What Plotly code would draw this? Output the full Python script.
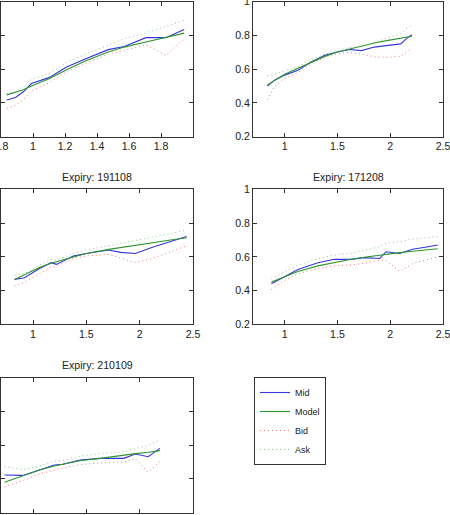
import plotly.graph_objects as go

# ---------------- data ----------------
# Panel 1 (top-left)
p1_x = [0.836, 0.89, 0.94, 0.99, 1.10, 1.21, 1.33, 1.47, 1.57, 1.706, 1.83, 1.945]
p1_mid = [0.417, 0.432, 0.466, 0.515, 0.550, 0.613, 0.662, 0.716, 0.735, 0.787, 0.787, 0.836]
p1_model = [0.448, 0.462, 0.478, 0.500, 0.544, 0.597, 0.650, 0.702, 0.731, 0.761, 0.790, 0.814]
p1_bid = [0.367, 0.385, 0.420, 0.470, 0.520, 0.585, 0.635, 0.690, 0.712, 0.745, 0.682, 0.780]
p1_ask = [0.455, 0.465, 0.495, 0.540, 0.575, 0.640, 0.690, 0.740, 0.780, 0.815, 0.855, 0.889]

# Panel 2 (top-right)
p2_x = [0.836, 0.905, 1.0, 1.126, 1.25, 1.38, 1.5, 1.615, 1.726, 1.85, 1.98, 2.1, 2.15, 2.205]
p2_mid = [0.500, 0.535, 0.565, 0.594, 0.643, 0.682, 0.702, 0.717, 0.710, 0.731, 0.741, 0.750, 0.780, 0.804]
p2_model = [0.505, 0.535, 0.570, 0.605, 0.643, 0.676, 0.702, 0.720, 0.737, 0.755, 0.771, 0.784, 0.789, 0.795]
p2_bid = [0.420, 0.500, 0.545, 0.580, 0.630, 0.668, 0.690, 0.700, 0.690, 0.673, 0.670, 0.677, 0.700, 0.724]
p2_ask = [0.560, 0.570, 0.590, 0.615, 0.655, 0.690, 0.712, 0.728, 0.735, 0.760, 0.785, 0.810, 0.840, 0.860]

# Panel 3 (Expiry: 191108)
p3_x = [0.827, 0.92, 1.06, 1.17, 1.22, 1.377, 1.5, 1.71, 1.82, 1.96, 2.12, 2.29, 2.44]
p3_mid = [0.466, 0.476, 0.531, 0.565, 0.555, 0.604, 0.620, 0.640, 0.626, 0.620, 0.656, 0.690, 0.720]
p3_model = [0.466, 0.495, 0.537, 0.562, 0.571, 0.600, 0.620, 0.644, 0.655, 0.670, 0.685, 0.700, 0.713]
p3_bid = [0.426, 0.450, 0.500, 0.540, 0.545, 0.590, 0.605, 0.615, 0.593, 0.566, 0.590, 0.630, 0.665]
p3_ask = [0.490, 0.500, 0.550, 0.585, 0.580, 0.620, 0.640, 0.665, 0.682, 0.695, 0.715, 0.738, 0.758]

# Panel 4 (Expiry: 171208)
p4_x = [0.874, 1.0, 1.126, 1.315, 1.47, 1.63, 1.755, 1.9, 1.96, 2.09, 2.21, 2.36, 2.45]
p4_mid = [0.440, 0.485, 0.525, 0.565, 0.585, 0.585, 0.595, 0.590, 0.630, 0.620, 0.645, 0.660, 0.670]
p4_model = [0.450, 0.480, 0.513, 0.546, 0.567, 0.585, 0.597, 0.610, 0.614, 0.625, 0.633, 0.642, 0.648]
p4_bid = [0.406, 0.460, 0.500, 0.530, 0.546, 0.552, 0.562, 0.580, 0.578, 0.513, 0.560, 0.585, 0.600]
p4_ask = [0.470, 0.510, 0.550, 0.590, 0.610, 0.620, 0.640, 0.660, 0.680, 0.690, 0.705, 0.715, 0.720]

# Panel 5 (Expiry: 210109)
p5_x = [0.733, 0.905, 1.06, 1.2, 1.28, 1.44, 1.63, 1.85, 1.96, 2.08, 2.19]
p5_mid = [0.423, 0.421, 0.453, 0.483, 0.487, 0.512, 0.522, 0.522, 0.548, 0.532, 0.581]
p5_model = [0.380, 0.417, 0.453, 0.477, 0.487, 0.508, 0.522, 0.542, 0.550, 0.558, 0.568]
p5_bid = [0.354, 0.390, 0.430, 0.455, 0.465, 0.485, 0.495, 0.500, 0.520, 0.439, 0.502]
p5_ask = [0.473, 0.455, 0.475, 0.505, 0.510, 0.535, 0.550, 0.560, 0.580, 0.600, 0.630]

titles = ["", "", "Expiry: 191108", "Expiry: 171208", "Expiry: 210109"]
y_ticks = [0.2, 0.4, 0.6, 0.8, 1.0]
x_ticks_p1 = [0.8, 1.0, 1.2, 1.4, 1.6, 1.8]
x_ticks = [1.0, 1.5, 2.0, 2.5]

panels = [
    (p1_x, p1_mid, p1_model, p1_bid, p1_ask),
    (p2_x, p2_mid, p2_model, p2_bid, p2_ask),
    (p3_x, p3_mid, p3_model, p3_bid, p3_ask),
    (p4_x, p4_mid, p4_model, p4_bid, p4_ask),
    (p5_x, p5_mid, p5_model, p5_bid, p5_ask),
]

# ---------------- styling / layout ----------------
W, H = 450, 515
MID_C = "#3535e0"
MODEL_C = "#2e962e"
BID_C = "#ee7a7a"
ASK_C = "#86c886"
FONT = "Liberation Sans, Arial, sans-serif"
DOT = "1px,3px"

# pixel boxes (left, right, top, bottom)
boxes = [
    (1, 193, 1.7, 136.7),
    (253, 443, 1.7, 136.7),
    (1, 193, 189.3, 324.3),
    (253, 443, 189.3, 324.3),
    (1, 193, 377.7, 512.7),
]
title_y_px = [None, None, 177, 177, 364.5]
# which tick labels fall inside the visible picture
show_xlabels = [True, True, True, True, False]
show_ylabels = [False, True, False, True, False]

fig = go.Figure()
for i, (x, mid, model, bid, ask) in enumerate(panels):
    xa = "x" if i == 0 else f"x{i+1}"
    ya = "y" if i == 0 else f"y{i+1}"
    show = i == 0
    fig.add_trace(go.Scatter(x=x, y=mid, mode="lines", name="Mid", legendgroup="Mid",
                             showlegend=show, line=dict(color=MID_C, width=1.1),
                             xaxis=xa, yaxis=ya))
    fig.add_trace(go.Scatter(x=x, y=model, mode="lines", name="Model", legendgroup="Model",
                             showlegend=show, line=dict(color=MODEL_C, width=1.1),
                             xaxis=xa, yaxis=ya))
    fig.add_trace(go.Scatter(x=x, y=bid, mode="lines", name="Bid", legendgroup="Bid",
                             showlegend=show, line=dict(color=BID_C, width=1, dash=DOT),
                             xaxis=xa, yaxis=ya))
    fig.add_trace(go.Scatter(x=x, y=ask, mode="lines", name="Ask", legendgroup="Ask",
                             showlegend=show, line=dict(color=ASK_C, width=1, dash=DOT),
                             xaxis=xa, yaxis=ya))

common = dict(showline=True, linecolor="#333", linewidth=1, mirror="ticks",
              ticks="inside", ticklen=4, tickcolor="#333", showgrid=False,
              zeroline=False, automargin=False, ticklabeloverflow="allow",
              tickfont=dict(size=10.6, color="#222", family=FONT),
              fixedrange=True)

layout = dict(template="none", width=W, height=H, margin=dict(l=0, r=0, t=0, b=0, pad=0),
              paper_bgcolor="white", plot_bgcolor="white",
              font=dict(family=FONT, color="#222"))
annotations = []
for i, (l, r, t, b) in enumerate(boxes):
    xk = "xaxis" if i == 0 else f"xaxis{i+1}"
    yk = "yaxis" if i == 0 else f"yaxis{i+1}"
    xanchor = "y" if i == 0 else f"y{i+1}"
    yanchor = "x" if i == 0 else f"x{i+1}"
    if i == 0:
        xr, xt = [0.8, 2.0], x_ticks_p1
    else:
        xr, xt = [0.7, 2.5], x_ticks
    layout[xk] = dict(common, domain=[l / W, r / W], range=xr, tickvals=xt,
                      anchor=xanchor, showticklabels=show_xlabels[i])
    layout[yk] = dict(common, domain=[1 - b / H, 1 - t / H], range=[0.2, 1.0],
                      tickvals=y_ticks, anchor=yanchor, showticklabels=show_ylabels[i])
    if titles[i]:
        annotations.append(dict(text=titles[i], xref="paper", yref="paper",
                                x=(l + r) / 2 / W, y=1 - title_y_px[i] / H,
                                xanchor="center", yanchor="middle", showarrow=False,
                                font=dict(size=10.6, color="#222", family=FONT)))
layout["annotations"] = annotations
layout["legend"] = dict(x=254 / W, y=1 - 377 / H, xanchor="left", yanchor="top",
                        bgcolor="white", bordercolor="#333", borderwidth=1,
                        font=dict(size=9, color="#222", family=FONT),
                        tracegroupgap=0)
layout["showlegend"] = True
fig.update_layout(**layout)

fig.write_html("out.html")
